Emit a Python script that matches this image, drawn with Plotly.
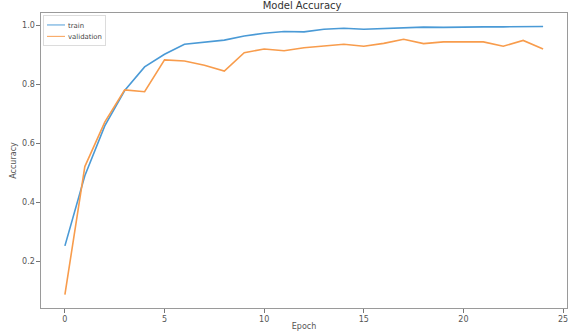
import plotly.graph_objects as go

epochs = list(range(25))
train_acc = [0.253, 0.491, 0.66, 0.78, 0.86, 0.903, 0.937, 0.943, 0.951, 0.965,
             0.974, 0.98, 0.979, 0.988, 0.991, 0.988, 0.991, 0.993, 0.995, 0.994,
             0.996, 0.996, 0.996, 0.996, 0.997]
val_acc = [0.088, 0.522, 0.673, 0.782, 0.776, 0.884, 0.88, 0.866, 0.846, 0.908,
           0.921, 0.915, 0.925, 0.93, 0.937, 0.93, 0.94, 0.954, 0.939, 0.945,
           0.946, 0.945, 0.93, 0.95, 0.921]
x_ticks = [0, 5, 10, 15, 20, 25]
y_ticks = [0.2, 0.4, 0.6, 0.8, 1.0]

fig = go.Figure()
fig.add_trace(go.Scatter(x=epochs, y=train_acc, mode="lines", name="train",
                         line=dict(color="#4a9ad6", width=1.6)))
fig.add_trace(go.Scatter(x=epochs, y=val_acc, mode="lines", name="validation",
                         line=dict(color="#f89c4c", width=1.6)))

axis_common = dict(showgrid=False, zeroline=False, showline=True, linecolor="#9a9a9a",
                   linewidth=1.2, mirror=True, ticks="outside", ticklen=3.5,
                   tickcolor="#777", automargin=False,
                   tickfont=dict(size=8, color="#555", family="DejaVu Sans"))
fig.update_layout(
    width=570, height=331,
    margin=dict(l=41, r=3, t=13, b=23),
    paper_bgcolor="white", plot_bgcolor="white",
    title=dict(text="Model Accuracy", x=0.53, xanchor="center", y=0.982, yanchor="middle",
               font=dict(size=10, color="#333", family="DejaVu Sans")),
    xaxis=dict(range=[-1.2, 25.2], tickvals=x_ticks,
               title=dict(text="Epoch", standoff=0,
                          font=dict(size=8, color="#555", family="DejaVu Sans")),
               **axis_common),
    yaxis=dict(range=[0.0424, 1.0429], tickvals=y_ticks, tickformat=".1f",
               title=dict(text="Accuracy", standoff=4,
                          font=dict(size=8, color="#555", family="DejaVu Sans")),
               **axis_common),
    legend=dict(x=0.004, y=0.992, xanchor="left", yanchor="top",
                bgcolor="rgba(255,255,255,0.8)", bordercolor="#d8d8d8", borderwidth=1.5,
                font=dict(size=11.5, color="#444", family="DejaVu Sans"),
                tracegroupgap=0, itemwidth=30),
    showlegend=True,
)

post = """
document.body.style.margin='0';
document.body.style.overflow='hidden';
function shrinkLegend(){
  var gd = document.getElementById('{plot_id}');
  if(!gd) return;
  var lg = gd.querySelector('.legend');
  if(!lg || lg.getAttribute('data-scaled')) return;
  var t = lg.getAttribute('transform') || '';
  lg.setAttribute('transform', t + ' scale(0.6)');
  lg.setAttribute('data-scaled', '1');
}
shrinkLegend();
setTimeout(shrinkLegend, 0);
"""
fig.write_html("out.html", post_script=post, config={"displayModeBar": False})
